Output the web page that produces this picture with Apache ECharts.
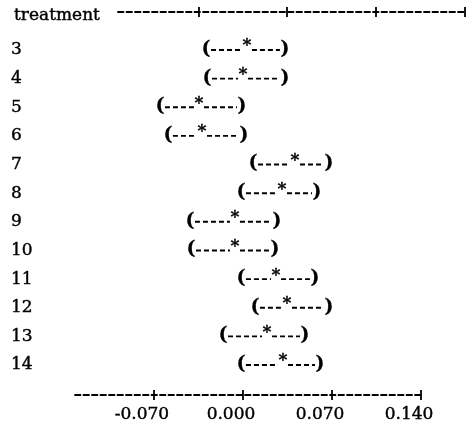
<!DOCTYPE html>
<html>
<head>
<meta charset="utf-8">
<script src="https://cdn.jsdelivr.net/npm/echarts@6/dist/echarts.min.js"></script>
<style>
html,body{margin:0;padding:0;background:#fff;}
#chart{width:472px;height:437px;}
</style>
</head>
<body>
<div id="chart"></div>
<script>
// ---- data ----
const treatments = [3, 4, 5, 6, 7, 8, 9, 10, 11, 12, 13, 14];
const lower = [-0.0291, -0.0283, -0.0653, -0.0590, 0.0079, -0.0016, -0.0417, -0.0409, -0.0016, 0.0094, -0.0157, -0.0016];
const means = [0.0031, 0.0000, -0.0346, -0.0322, 0.0409, 0.0307, -0.0063, -0.0063, 0.0260, 0.0346, 0.0189, 0.0315];
const upper = [0.0330, 0.0330, -0.0008, 0.0008, 0.0676, 0.0582, 0.0267, 0.0252, 0.0566, 0.0676, 0.0488, 0.0606];
const tickValues = [-0.070, 0.000, 0.070, 0.140];
const axisTitle = 'treatment';

const FONT = '"DejaVu Serif", "Liberation Serif", serif';
const FS = 17;
const data = treatments.map((t, i) => [t, lower[i], means[i], upper[i]]);

const chart = echarts.init(document.getElementById('chart'), null, {renderer: 'canvas'});

const dashAxisLine = {show: true, onZero: false, lineStyle: {color: '#000', width: 1.8, type: [5.5, 3]}};
const tickStyle = {color: '#000', width: 1.8};
const BMIN = -0.1321, BMAX = 0.14157;   // bottom axis extent
const TMIN = -0.1333, TMAX = 0.1410;    // top axis extent (printed shifted in the original)
const txtBorder = {textBorderColor: '#000', textBorderWidth: 0.4};

chart.setOption({
  backgroundColor: '#fff',
  animation: false,
  title: {
    text: axisTitle, left: 9, top: 2,
    textStyle: Object.assign({fontFamily: FONT, fontSize: FS, fontWeight: 'normal', color: '#000'}, txtBorder)
  },
  grid: [
    {left: 75, width: 348, top: 12, bottom: 42},
    {left: 118, width: 348, top: 12, height: 10},
    {left: 75, width: 348, top: 300, bottom: 42},
    {left: 118, width: 348, top: 12, height: 10}
  ],
  xAxis: [
    { // bottom axis with labels
      gridIndex: 0, type: 'value', position: 'bottom', min: BMIN, max: BMAX,
      axisLine: dashAxisLine,
      axisTick: {show: true, customValues: tickValues, length: 5, lineStyle: tickStyle},
      axisLabel: Object.assign({show: true, customValues: tickValues, formatter: v => v.toFixed(3),
        fontFamily: FONT, fontSize: FS, color: '#000', margin: 11, padding: [0, 24, 0, 0]}, txtBorder),
      splitLine: {show: false}
    },
    { // top axis
      gridIndex: 1, type: 'value', position: 'top', min: TMIN, max: TMAX,
      axisLine: dashAxisLine,
      axisTick: {show: true, customValues: tickValues, length: 5, lineStyle: tickStyle},
      axisLabel: {show: false}, splitLine: {show: false}
    },
    { // inner half of "+" on bottom axis
      gridIndex: 2, type: 'value', position: 'bottom', min: BMIN, max: BMAX,
      axisLine: {show: false, onZero: false},
      axisTick: {show: true, inside: true, customValues: tickValues, length: 5, lineStyle: tickStyle},
      axisLabel: {show: false}, splitLine: {show: false}
    },
    { // inner half of "+" on top axis
      gridIndex: 3, type: 'value', position: 'top', min: TMIN, max: TMAX,
      axisLine: {show: false, onZero: false},
      axisTick: {show: true, inside: true, customValues: tickValues, length: 5, lineStyle: tickStyle},
      axisLabel: {show: false}, splitLine: {show: false}
    }
  ],
  yAxis: [
    {
      gridIndex: 0, type: 'value', inverse: true, min: 1.6732, max: 15.0475,
      axisLine: {show: false, onZero: false}, axisTick: {show: false}, splitLine: {show: false},
      axisLabel: Object.assign({show: true, customValues: treatments, formatter: v => String(v), align: 'left',
        margin: 64, fontFamily: FONT, fontSize: FS, color: '#000'}, txtBorder)
    },
    {gridIndex: 1, type: 'value', show: false, min: 0, max: 1},
    {gridIndex: 2, type: 'value', show: false, min: 0, max: 1},
    {gridIndex: 3, type: 'value', show: false, min: 0, max: 1}
  ],
  series: [{
    type: 'custom',
    xAxisIndex: 0, yAxisIndex: 0,
    data: data,
    encode: {x: [1, 2, 3], y: 0},
    renderItem: function (params, api) {
      const y = api.value(0);
      const pL = api.coord([api.value(1), y]);
      const pM = api.coord([api.value(2), y]);
      const pH = api.coord([api.value(3), y]);
      const ls = {stroke: '#000', lineWidth: 1.9, lineDash: [5, 3]};
      const ts = (txt, x, yy, size, weight) => ({type: 'text', style: {text: txt, x: x, y: yy, align: 'center',
        verticalAlign: 'middle', font: weight + ' ' + size + 'px ' + FONT, fill: '#000', stroke: '#000', lineWidth: 0.3}});
      return {type: 'group', children: [
        {type: 'line', shape: {x1: pL[0] + 5, y1: pL[1], x2: pM[0] - 5, y2: pM[1]}, style: ls},
        {type: 'line', shape: {x1: pM[0] + 5, y1: pM[1], x2: pH[0] - 5, y2: pH[1]}, style: ls},
        ts('(', pL[0], pL[1] - 1, 19, 'bold'),
        ts(')', pH[0], pH[1] - 1, 19, 'bold'),
        ts('*', pM[0], pM[1] - 4, 17, 'bold')
      ]};
    }
  }]
});
</script>
</body>
</html>
